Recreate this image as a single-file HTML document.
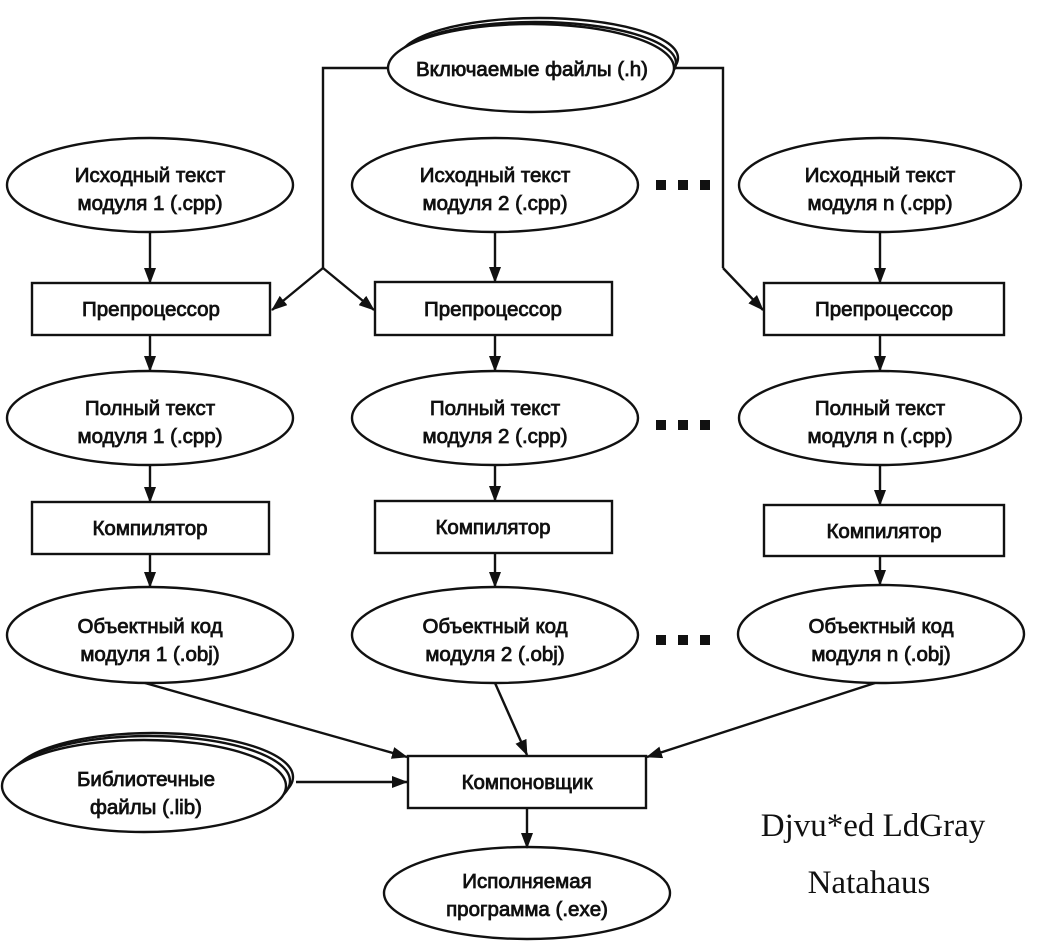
<!DOCTYPE html>
<html><head><meta charset="utf-8"><style>
html,body{margin:0;padding:0;background:#fff;}
svg{display:block;}
.t{font-family:"Liberation Sans","DejaVu Sans",sans-serif;font-size:20.5px;fill:#111;stroke:#111;stroke-width:0.8;text-anchor:middle;}
.w{font-family:"Liberation Serif",serif;font-size:33px;fill:#111;text-anchor:middle;}
</style></head><body>
<svg width="1037" height="949" viewBox="0 0 1037 949" xmlns="http://www.w3.org/2000/svg">
<defs><marker id="a" viewBox="0 0 16 12" refX="15" refY="6" markerWidth="16" markerHeight="12" markerUnits="userSpaceOnUse" orient="auto"><path d="M0,0 L16,6 L0,12 z" fill="#111"/></marker></defs>
<g fill="none" stroke="#111" stroke-width="2.4">
<ellipse cx="539" cy="58" rx="139" ry="40"/>
<ellipse cx="535" cy="63" rx="141" ry="41"/>
<ellipse cx="531" cy="68" rx="143" ry="44" fill="#fff"/>
<polyline points="388,68 323,68 323,268"/>
<polyline points="674,68 723,68 723,268"/>
<line x1="323" y1="268" x2="272" y2="310" marker-end="url(#a)"/>
<line x1="323" y1="268" x2="374" y2="310" marker-end="url(#a)"/>
<line x1="723" y1="268" x2="763" y2="310" marker-end="url(#a)"/>
<ellipse cx="150" cy="185" rx="143" ry="47"/>
<ellipse cx="495" cy="185" rx="143" ry="47"/>
<ellipse cx="880" cy="185" rx="141" ry="47"/>
<rect x="32" y="283" width="238" height="52"/>
<rect x="375" y="282" width="237" height="53"/>
<rect x="764" y="283" width="240" height="52"/>
<ellipse cx="150" cy="418" rx="143" ry="47"/>
<ellipse cx="495" cy="418" rx="143" ry="47"/>
<ellipse cx="880" cy="418" rx="141" ry="47"/>
<rect x="32" y="502" width="237" height="52"/>
<rect x="375" y="501" width="237" height="52"/>
<rect x="764" y="505" width="240" height="51"/>
<ellipse cx="150" cy="635" rx="143" ry="48"/>
<ellipse cx="495" cy="635" rx="143" ry="48"/>
<ellipse cx="881" cy="634" rx="143" ry="49"/>
<g marker-end="url(#a)">
<line x1="150" y1="232" x2="150" y2="283"/>
<line x1="495" y1="232" x2="495" y2="282"/>
<line x1="880" y1="232" x2="880" y2="283"/>
<line x1="150" y1="335" x2="150" y2="371"/>
<line x1="495" y1="335" x2="495" y2="371"/>
<line x1="880" y1="335" x2="880" y2="371"/>
<line x1="150" y1="465" x2="150" y2="502"/>
<line x1="495" y1="465" x2="495" y2="501"/>
<line x1="880" y1="465" x2="880" y2="505"/>
<line x1="150" y1="554" x2="150" y2="587"/>
<line x1="495" y1="553" x2="495" y2="587"/>
<line x1="880" y1="556" x2="880" y2="585"/>
<line x1="145" y1="683" x2="407" y2="757"/>
<line x1="495" y1="683" x2="527" y2="755"/>
<line x1="875" y1="683" x2="647" y2="757"/>
<line x1="296" y1="782" x2="407" y2="782"/>
<line x1="527" y1="808" x2="527" y2="848"/>
</g>
<ellipse cx="153" cy="777" rx="140" ry="44"/>
<ellipse cx="149" cy="781" rx="141" ry="45"/>
<ellipse cx="144" cy="786" rx="142" ry="46" fill="#fff"/>
<rect x="408" y="756" width="238" height="52" fill="#fff"/>
<ellipse cx="527" cy="893" rx="143" ry="46"/>
</g>
<g fill="#111">
<rect x="656" y="180" width="10" height="10"/><rect x="678" y="180" width="10" height="10"/><rect x="700" y="180" width="10" height="10"/>
<rect x="656" y="420" width="10" height="10"/><rect x="678" y="420" width="10" height="10"/><rect x="700" y="420" width="10" height="10"/>
<rect x="656" y="635" width="10" height="10"/><rect x="678" y="635" width="10" height="10"/><rect x="700" y="635" width="10" height="10"/>
</g>
<g class="t">
<text x="532" y="76">Включаемые файлы (.h)</text>
<text x="150" y="182">Исходный текст</text><text x="150" y="210">модуля 1 (.cpp)</text>
<text x="495" y="182">Исходный текст</text><text x="495" y="210">модуля 2 (.cpp)</text>
<text x="880" y="182">Исходный текст</text><text x="880" y="210">модуля n (.cpp)</text>
<text x="151" y="316">Препроцессор</text>
<text x="493" y="316">Препроцессор</text>
<text x="884" y="316">Препроцессор</text>
<text x="150" y="415">Полный текст</text><text x="150" y="443">модуля 1 (.cpp)</text>
<text x="495" y="415">Полный текст</text><text x="495" y="443">модуля 2 (.cpp)</text>
<text x="880" y="415">Полный текст</text><text x="880" y="443">модуля n (.cpp)</text>
<text x="150" y="535">Компилятор</text>
<text x="493" y="534">Компилятор</text>
<text x="884" y="538">Компилятор</text>
<text x="150" y="633">Объектный код</text><text x="150" y="661">модуля 1 (.obj)</text>
<text x="495" y="633">Объектный код</text><text x="495" y="661">модуля 2 (.obj)</text>
<text x="881" y="633">Объектный код</text><text x="881" y="661">модуля n (.obj)</text>
<text x="146" y="786">Библиотечные</text><text x="146" y="814">файлы (.lib)</text>
<text x="527" y="789">Компоновщик</text>
<text x="527" y="888">Исполняемая</text><text x="527" y="916">программа (.exe)</text>
</g>
<text class="w" x="873" y="836">Djvu*ed LdGray</text>
<text class="w" x="869" y="893">Natahaus</text>
</svg>
</body></html>
